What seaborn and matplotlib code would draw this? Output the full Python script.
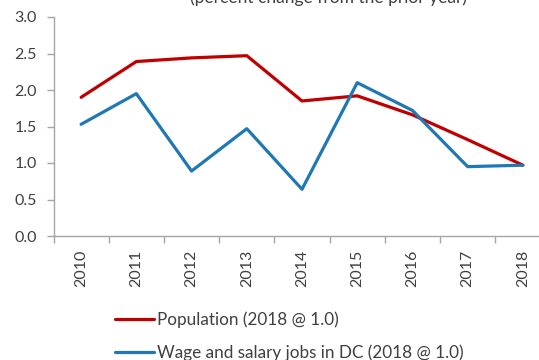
import numpy as np
import pandas as pd
import matplotlib
matplotlib.use("Agg")
import matplotlib.pyplot as plt
import seaborn as sns

years = ["2010", "2011", "2012", "2013", "2014", "2015", "2016", "2017", "2018"]
population = [1.90, 2.39, 2.44, 2.47, 1.85, 1.92, 1.66, 1.32, 0.97]
jobs = [1.53, 1.95, 0.89, 1.47, 0.64, 2.10, 1.72, 0.95, 0.97]
series_names = ["Population (2018 @ 1.0)", "Wage and salary jobs in DC (2018 @ 1.0)"]
subtitle = "(percent change from the prior year)"
y_ticks = [0.0, 0.5, 1.0, 1.5, 2.0, 2.5, 3.0]

sns.set_theme(style="white")
plt.rcParams["font.family"] = ["Lato", "DejaVu Sans"]

df = pd.DataFrame({
    "year": years * 2,
    "value": population + jobs,
    "series": [series_names[0]] * len(years) + [series_names[1]] * len(years),
})

text_color = "#404040"
axis_color = "#A6A6A6"

fig = plt.figure(figsize=(5.39, 3.60), dpi=100)
ax = fig.add_axes([53.5 / 539, 124 / 360, 497 / 539, 219 / 360])

sns.lineplot(data=df, x="year", y="value", hue="series",
             palette=["#C00000", "#1F78B4"], linewidth=2.3,
             sort=False, legend=True, ax=ax)

ax.set_xlim(-0.5, len(years) - 0.5)
ax.set_ylim(0, 3)
ax.set_xlabel("")
ax.set_ylabel("")

# category labels centred, tick marks on the category boundaries
ax.set_xticks(range(len(years)))
ax.set_xticklabels(years, rotation=90, fontsize=11.5, color=text_color)
ax.set_xticks(np.arange(-0.5, len(years), 1.0), minor=True)
ax.tick_params(axis="x", which="major", length=0, pad=10)
ax.tick_params(axis="x", which="minor", length=5, width=1, color=axis_color,
               direction="out", bottom=True)

ax.set_yticks(y_ticks)
ax.set_yticklabels([f"{v:.1f}" for v in y_ticks], fontsize=11.5, color=text_color)
ax.tick_params(axis="y", length=5, width=1, color=axis_color, direction="out",
               left=True, pad=7)

for side in ["top", "right"]:
    ax.spines[side].set_visible(False)
for side in ["left", "bottom"]:
    ax.spines[side].set_color(axis_color)
    ax.spines[side].set_linewidth(1)

handles, labels = ax.get_legend_handles_labels()
ax.get_legend().remove()
fig.legend(handles, labels, loc="upper left",
           bbox_to_anchor=(108 / 539, 1 - 305 / 360),
           frameon=False, fontsize=12.3, handlelength=2.3,
           handletextpad=0.15, labelspacing=0.95, borderaxespad=0,
           labelcolor=text_color)

fig.text(328 / 539, 1 - 3.5 / 360, subtitle, ha="center", va="baseline",
         fontsize=12.5, color=text_color)

fig.savefig("out.png", dpi=100)
